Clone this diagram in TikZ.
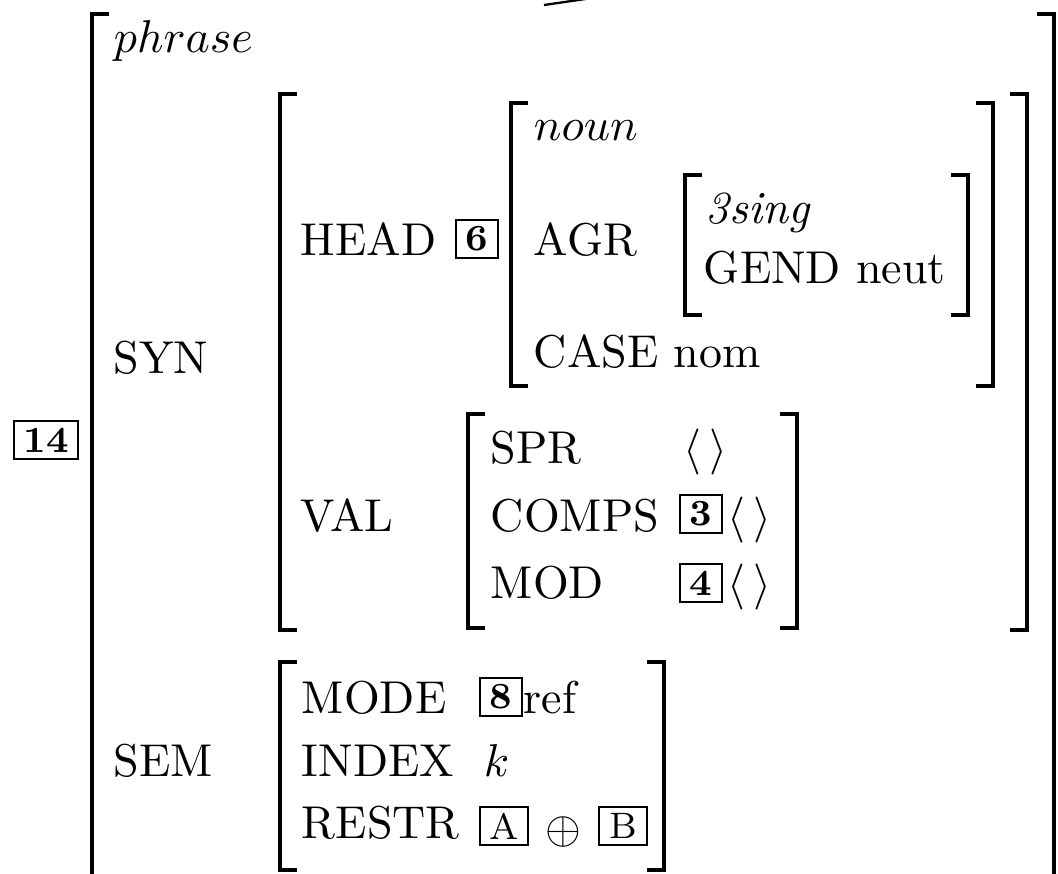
\documentclass[tikz,border=0pt]{standalone}
\usepackage{amssymb,amsmath}
\usepackage{tikz}
\usetikzlibrary{positioning}
\newcommand{\avmlb}[3]{\draw[brk] ({#1+17},#2) -| (#1,#3) -- ({#1+17},#3);}
\newcommand{\avmrb}[3]{\draw[brk] ({#1-17},#2) -| (#1,#3) -- ({#1-17},#3);}

\begin{document}
\begin{tikzpicture}[
    x=0.2174pt, y=-0.2174pt,
    brk/.style={line width=0.85pt},
    attr/.style={anchor=base west, inner sep=0pt},
    tag/.style={draw, line width=0.6pt, inner sep=0pt, minimum width=9.1pt,
                minimum height=8.3pt, font=\footnotesize\bfseries},
    ltag/.style={tag, minimum width=10.4pt, font=\footnotesize}
]
  \useasboundingbox (0,0) rectangle (1058,873);
  \clip (0,0) rectangle (1058,873);

  % labels
  \node[tag, minimum width=13.9pt] (T14) at (46,440) {14};
  \node[attr] (phr) at (113,52) {$phrase$};
  \node[attr] (syn) at (113,373) {SYN};
  \node[attr] (sem) at (113,776) {SEM};

  \node[attr] (head) at (300,255) {HEAD};
  \node[tag] (T6) at (477,239) {6};
  \node[attr] (noun) at (533,140) {$noun$};
  \node[attr] (agr) at (533,255) {AGR};
  \node[attr] (sing) at (705,223) {\textit{3sing}};
  \node[attr] (gend) at (703,283) {GEND neut};
  \node[attr] (case) at (533,367) {CASE nom};

  \node[attr] (val) at (300,531) {VAL};
  \node[attr] (spr) at (490,463) {SPR};
  \node[attr] (comps) at (490,531) {COMPS};
  \node[attr] (mod) at (490,598) {MOD};
  \node[attr] (sprv) at (683,463) {$\langle\,\rangle$};
  \node[tag] (T3) at (701,514) {3};
  \node[attr] (compsv) at (727,531) {$\langle\,\rangle$};
  \node[tag] (T4) at (701,583) {4};
  \node[attr] (modv) at (727,598) {$\langle\,\rangle$};

  \node[attr] (mode) at (301,713) {MODE};
  \node[tag] (T8) at (501,697) {8};
  \node[attr] (ref) at (523,713) {ref};
  \node[attr] (index) at (301,776) {INDEX};
  \node[attr] (kk) at (483,776) {$k$};
  \node[attr] (restr) at (301,838) {RESTR};
  \node[ltag] (TA) at (504,826) {A};
  \node[inner sep=0pt] (plus) at (563,832) {$\oplus$};
  \node[ltag] (TB) at (623,826) {B};

  % brackets
  \avmlb{92}{14}{900}   \avmrb{1054}{14}{900}
  \avmlb{280}{94}{630}  \avmrb{1027}{94}{630}
  \avmlb{511}{103}{386} \avmrb{993}{103}{386}
  \avmlb{685}{175}{315} \avmrb{968}{175}{315}
  \avmlb{468}{414}{628} \avmrb{797}{414}{628}
  \avmlb{280}{662}{870} \avmrb{664}{662}{870}

  % branch from above
  \coordinate (up1) at (544,5);
  \coordinate (up2) at (592,-2);
  \draw[line width=0.5pt] (up1) -- (up2);
\end{tikzpicture}
\end{document}
